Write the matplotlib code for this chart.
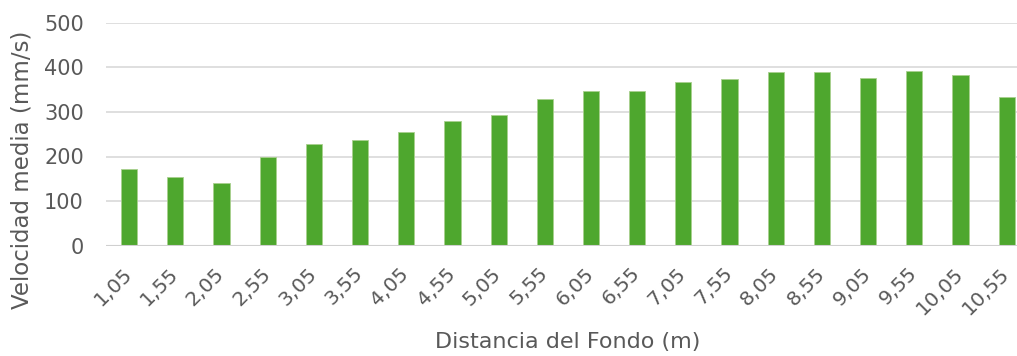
import numpy as np
import matplotlib.pyplot as plt
import matplotlib.transforms as mtransforms

# distancia del fondo (m) y velocidad media (mm/s)
distancias = ['1,05', '1,55', '2,05', '2,55', '3,05', '3,55', '4,05', '4,55', '5,05', '5,55',
              '6,05', '6,55', '7,05', '7,55', '8,05', '8,55', '9,05', '9,55', '10,05', '10,55']
velocidades = [171, 153, 140, 199, 227, 237, 254, 279, 294, 328,
               346, 347, 366, 374, 389, 389, 377, 392, 382, 334]

gris = '#595959'
verde = '#4ea72e'

fig = plt.figure(figsize=(10.17, 3.56), dpi=100)
# the plot area runs a bit past the right edge, as in the original
ax = fig.add_axes([106 / 1017, 1 - 245.7 / 356, (1029.8 - 106) / 1017, (245.7 - 22.7) / 356])

x = np.arange(len(distancias))
ax.bar(x, velocidades, width=0.35, color=verde, edgecolor='#a9d08e', linewidth=0.6, zorder=3)

ax.set_xlim(-0.5, len(distancias) - 0.5)
ax.set_ylim(0, 500)
ax.set_yticks(np.arange(0, 501, 100))
ax.grid(axis='y', color='#d9d9d9', linewidth=1.2, zorder=0)
ax.axhline(0, color='#d0d0d0', linewidth=1.5, zorder=4)

for s in ax.spines.values():
    s.set_visible(False)
ax.tick_params(length=0)
ax.tick_params(axis='y', labelsize=15, labelcolor=gris, pad=16)
ax.set_xticks(x)
ax.set_xticklabels(distancias, rotation=45, ha='right', rotation_mode='anchor',
                   fontsize=14.5, color=gris)
ax.tick_params(axis='x', pad=13)
# nudge the rotated labels a little to the left
shift = mtransforms.ScaledTranslation(-5 / 72, 0, fig.dpi_scale_trans)
for lbl in ax.get_xticklabels():
    lbl.set_transform(lbl.get_transform() + shift)

fig.text(568 / 1017, 1 - 342 / 356, 'Distancia del Fondo (m)', ha='center', va='center',
         fontsize=16, color=gris)
fig.text(22 / 1017, 1 - 170 / 356, 'Velocidad media (mm/s)', ha='center', va='center',
         rotation=90, fontsize=16.5, color=gris)

fig.savefig('out.png', dpi=100)
